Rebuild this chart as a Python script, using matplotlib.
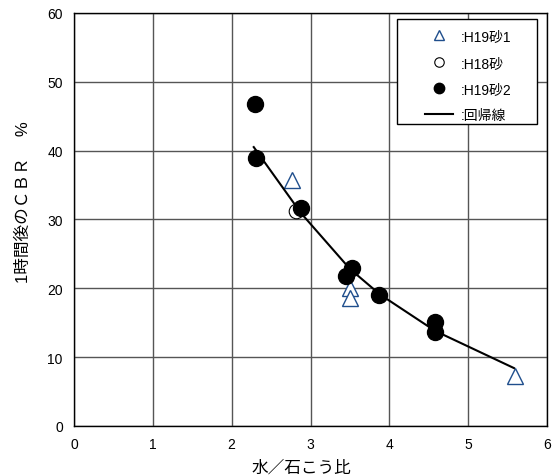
import matplotlib
matplotlib.use("Agg")
import matplotlib.pyplot as plt
from matplotlib.patches import Rectangle

plt.rcParams['font.family'] = ['Liberation Sans', 'Noto Sans CJK JP', 'DejaVu Sans']

# H19砂1 (三角)
h19_1_x = [2.76, 3.50, 3.50, 5.59]
h19_1_y = [35.7, 20.1, 18.6, 7.3]
# H18砂 (白丸)
h18_x = [2.81]
h18_y = [31.2]
# H19砂2 (黒丸)
h19_2_x = [2.29, 2.31, 2.88, 3.45, 3.52, 3.87, 4.58, 4.58]
h19_2_y = [46.8, 38.9, 31.6, 21.8, 22.9, 19.0, 15.1, 13.6]
# 回帰線
reg_x = [2.28, 2.88, 3.50, 3.88, 4.58, 5.58]
reg_y = [40.5, 30.9, 22.8, 19.1, 13.8, 8.4]

fig = plt.figure(figsize=(5.56, 4.77), dpi=100)
ax = fig.add_axes([0.133, 0.105, 0.851, 0.866])

ax.plot(h19_1_x, h19_1_y, linestyle='none', marker='^', markersize=11,
        markerfacecolor='white', markeredgecolor='#1f4e8c', markeredgewidth=1.0,
        label=':H19砂1', zorder=3)
ax.plot(h18_x, h18_y, linestyle='none', marker='o', markersize=10.5,
        markerfacecolor='white', markeredgecolor='black', markeredgewidth=0.8,
        label=':H18砂', zorder=3)
ax.plot(h19_2_x, h19_2_y, linestyle='none', marker='o', markersize=11.5,
        markerfacecolor='black', markeredgecolor='black',
        label=':H19砂2', zorder=4)
ax.plot(reg_x, reg_y, color='black', linewidth=1.5, label=':回帰線', zorder=5)

ax.set_xlim(0, 6)
ax.set_ylim(0, 60)
ax.set_xticks(range(0, 7))
ax.set_yticks(range(0, 61, 10))
ax.grid(True, color='#555555', linewidth=1.0)
ax.set_axisbelow(True)
ax.tick_params(length=0, labelsize=10, pad=8)
for s in ax.spines.values():
    s.set_color('black')
    s.set_linewidth(1.0)

ax.set_xlabel('水／石こう比', fontsize=12)
ax.xaxis.set_label_coords(0.48, -0.08)
ax.set_ylabel('1時間後のＣＢＲ　 %', fontsize=12)
ax.yaxis.set_label_coords(-0.09, 0.545)

# 凡例（枠は別に描く）
leg = ax.legend(loc='upper left', bbox_to_anchor=(0.742, 0.96), frameon=False,
                fontsize=10, borderpad=0, borderaxespad=0, handlelength=2.0,
                handletextpad=0.6, labelspacing=0.88, markerscale=0.65)
leg.set_zorder(10)
ax.add_patch(Rectangle((0.683, 0.731), 0.296, 0.254, transform=ax.transAxes,
                       facecolor='white', edgecolor='black', linewidth=1.0,
                       zorder=9, clip_on=False))

fig.savefig('out.png', dpi=100)
